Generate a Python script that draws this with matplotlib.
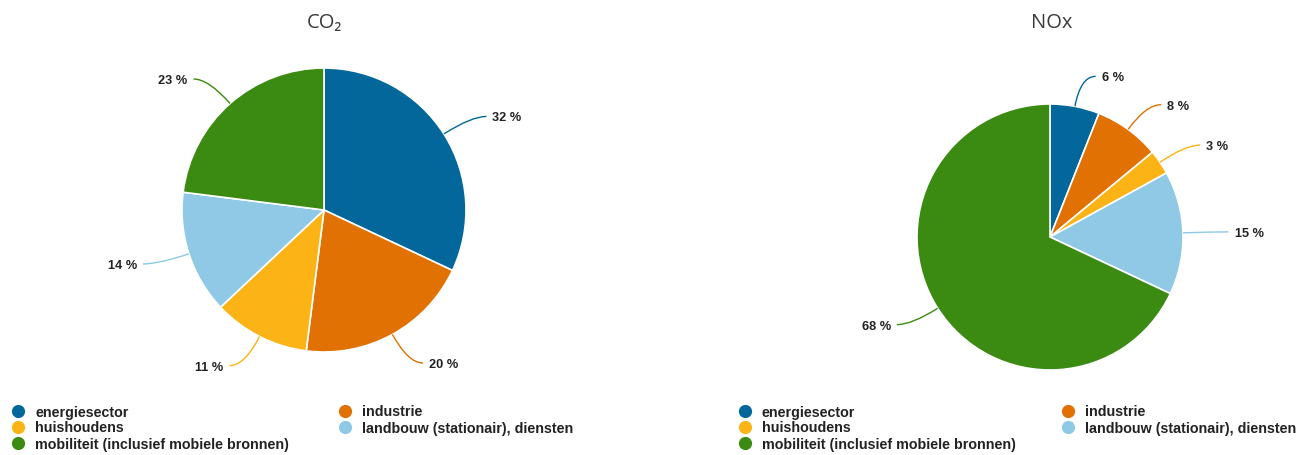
import matplotlib
matplotlib.use("Agg")
import matplotlib.pyplot as plt
from matplotlib.path import Path
from matplotlib.patches import PathPatch
import numpy as np

# Sector categories and colours
categories = [
    "energiesector",
    "industrie",
    "huishoudens",
    "landbouw (stationair), diensten",
    "mobiliteit (inclusief mobiele bronnen)",
]
colors = ["#03679b", "#e07102", "#fbb316", "#8fc9e6", "#3b8a11"]

# Share of emissions per sector (%)
co2_values = [32, 20, 11, 14, 23]
nox_values = [6, 8, 3, 15, 68]

titles = ["CO\u2082", "NOx"]

W, H = 1314, 455
fig = plt.figure(figsize=(W / 100, H / 100), dpi=100)
ax = fig.add_axes([0, 0, 1, 1])

label_font = dict(family=["Liberation Sans", "DejaVu Sans"], fontsize=9.2,
                  fontweight="bold", color="#222222")
legend_font = dict(family=["Liberation Sans", "DejaVu Sans"], fontsize=10.3,
                   fontweight="bold", color="#222222")


def draw_pie(values, center, radius, title, title_x):
    wedges, _ = ax.pie(values, colors=colors, startangle=-90, counterclock=True,
                       center=center, radius=radius,
                       wedgeprops=dict(edgecolor="white", linewidth=1.2))
    for w, v, c in zip(wedges, values, colors):
        mid = np.deg2rad((w.theta1 + w.theta2) / 2)
        d = np.array([np.cos(mid), np.sin(mid)])
        p0 = np.array(center) + radius * d
        p1 = np.array(center) + 1.23 * radius * d
        side = 1 if d[0] >= 0 else -1
        p2 = p1 + np.array([side * 15, 0])
        path = Path([p0, p1, p2], [Path.MOVETO, Path.CURVE3, Path.CURVE3])
        ax.add_patch(PathPatch(path, fill=False, edgecolor=c, linewidth=1.0))
        ax.text(p2[0] + side * 6, p2[1] + 2, f"{v} %",
                ha="left" if side > 0 else "right", va="center", **label_font)
    ax.text(title_x, 23, title, ha="center", va="center",
            family=["Open Sans", "DejaVu Sans"], fontsize=14.5, color="#3a3a3a")


def draw_legend(x0, x1, y0, dy):
    # first column: entries 0, 2, 4; second column: entries 1, 3
    slots = [(x0, y0), (x1, y0), (x0, y0 + dy), (x1, y0 + dy), (x0, y0 + 2 * dy)]
    for (x, y), name, c in zip(slots, categories, colors):
        ax.plot(x, y, "o", color=c, markersize=9.5, markeredgewidth=0)
        ax.text(x + 17, y + 1.5, name, ha="left", va="center", **legend_font)


draw_pie(co2_values, (324, 210), 142, titles[0], 324)
draw_pie(nox_values, (1050, 237), 133, titles[1], 1052)

draw_legend(18, 345, 411, 16)
draw_legend(745, 1068, 411, 16)

ax.set_xlim(0, W)
ax.set_ylim(H, 0)
ax.set_aspect("equal")
ax.axis("off")

fig.savefig("out.png", dpi=100, facecolor="white")
